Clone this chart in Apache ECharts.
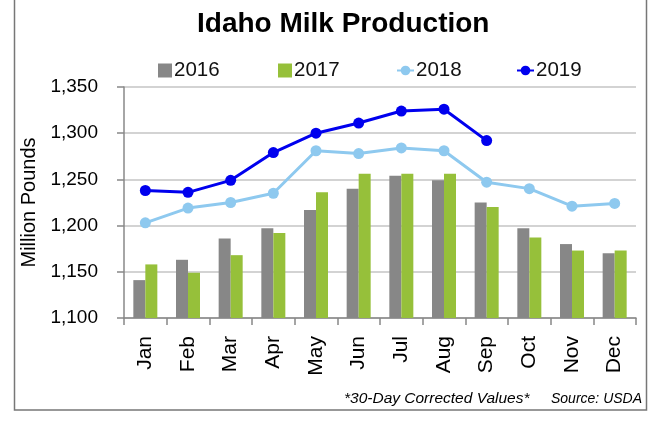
<!DOCTYPE html>
<html><head><meta charset="utf-8">
<script src="https://cdn.jsdelivr.net/npm/echarts@6/dist/echarts.min.js"></script>
<style>html,body{margin:0;padding:0;background:#fff}#c{width:653px;height:423px}</style>
</head><body><div id="c"></div>
<script>
var months = ['Jan','Feb','Mar','Apr','May','Jun','Jul','Aug','Sep','Oct','Nov','Dec'];
var y2016 = [1141,1163,1186,1197,1217,1240,1254,1249,1225,1197,1180,1170];
var y2017 = [1158,1149,1168,1192,1236,1256,1256,1256,1220,1187,1173,1173];
var y2018 = [1203,1219,1225,1235,1281,1278,1284,1281,1247,1240,1221,1224];
var y2019 = [1238,1236,1249,1279,1300,1311,1324,1326,1292];
var yTicks = [1100,1150,1200,1250,1300,1350];

var F = 'Liberation Sans';
function leg(name, left, icon, w, h){
  var d = {name:name}; if(icon) d.icon = icon;
  return {top:55,left:left,itemWidth:w,itemHeight:h,itemGap:0,
    textStyle:{fontFamily:F,fontSize:20.5,color:'#111',padding:[0,0,0,-3]},data:[d]};
}
var chart = echarts.init(document.getElementById('c'), null, {renderer:'canvas'});
chart.setOption({
  animation:false,
  title:{text:'Idaho Milk Production',left:192,top:5,textStyle:{fontFamily:F,fontWeight:'bold',fontSize:28,color:'#000'}},
  legend:[leg('2016',153,'rect',14,14),leg('2017',273,'rect',14,14),leg('2018',391,null,17,12),leg('2019',511,null,17,12)],
  grid:{left:124,right:17,top:87,bottom:105},
  xAxis:{type:'category',data:months,
    axisLine:{lineStyle:{color:'#888',width:1.5}},
    axisTick:{show:true,length:7,lineStyle:{color:'#888',width:1.5}},
    axisLabel:{rotate:90,fontFamily:F,fontSize:21,color:'#000',margin:18}},
  yAxis:{type:'value',min:1100,max:1350,interval:50,
    name:'Million Pounds',nameLocation:'middle',nameGap:79,nameRotate:90,
    nameTextStyle:{fontFamily:F,fontSize:20,color:'#000'},
    axisLine:{show:true,lineStyle:{color:'#888',width:1.5}},
    axisTick:{show:true,length:7,lineStyle:{color:'#888',width:1.5}},
    splitLine:{lineStyle:{color:'#c4c4c4',width:1.5}},
    axisLabel:{fontFamily:F,fontSize:19,color:'#000',margin:26,
      formatter:function(v){return v.toLocaleString('en-US');}}},
  series:[
    {name:'2016',type:'bar',data:y2016,barWidth:12,barGap:'0%',itemStyle:{color:'#878787'}},
    {name:'2017',type:'bar',data:y2017,barWidth:12,barGap:'0%',itemStyle:{color:'#96c03a'}},
    {name:'2018',type:'line',data:y2018,symbol:'circle',symbolSize:11,lineStyle:{width:3,color:'#8ec9ef'},itemStyle:{color:'#8ec9ef'},z:3},
    {name:'2019',type:'line',data:y2019,symbol:'circle',symbolSize:11,lineStyle:{width:3,color:'#0000ee'},itemStyle:{color:'#0000ee'},z:4}
  ],
  graphic:[
    {type:'rect',shape:{x:14.5,y:-5,width:632,height:415},style:{fill:'none',stroke:'#777',lineWidth:1.5},silent:true},
    {type:'text',left:344,top:391,style:{text:'*30-Day Corrected Values*',font:'italic 15.5px "Liberation Sans"',fill:'#000'}},
    {type:'text',left:551,top:392,style:{text:'Source: USDA',font:'italic 14px "Liberation Sans"',fill:'#000'}}
  ]
});
</script></body></html>
